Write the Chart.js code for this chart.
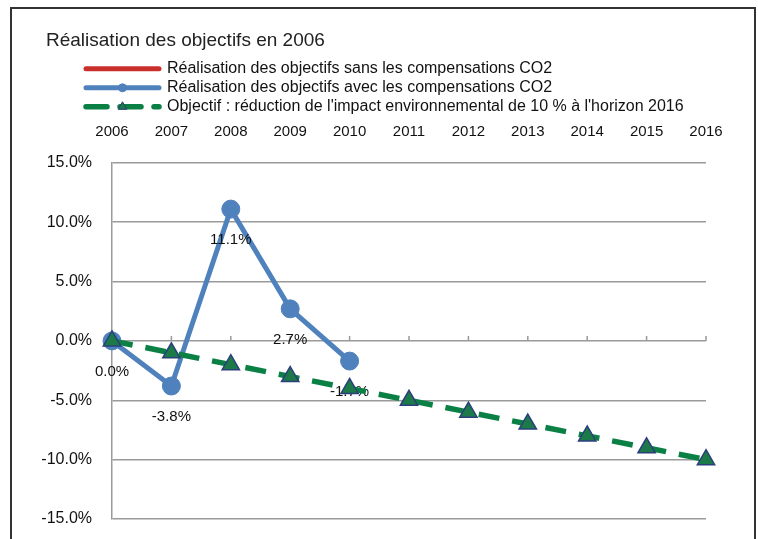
<!DOCTYPE html>
<html>
<head>
<meta charset="utf-8">
<script src="https://cdn.jsdelivr.net/npm/chart.js@4/dist/chart.umd.min.js"></script>
<style>
  body { margin: 0; background: #fff; }
  #wrap { position: relative; width: 758px; height: 539px; overflow: hidden; }
  #frame { position: absolute; left: 10px; top: 7px; width: 746px; height: 600px; border: 2px solid #333; box-sizing: border-box; pointer-events: none; }
</style>
</head>
<body>
<div id="wrap">
  <canvas id="chart" width="758" height="539"></canvas>
  <div id="frame"></div>
</div>
<script>
var title_text = "Réalisation des objectifs en 2006";
var years = ['2006', '2007', '2008', '2009', '2010', '2011', '2012', '2013', '2014', '2015', '2016'];
var label_sans = "Réalisation des objectifs sans les compensations CO2";
var label_avec = "Réalisation des objectifs avec les compensations CO2";
var label_objectif = "Objectif : réduction de l'impact environnemental de 10 % à l'horizon 2016";
// nothing of the red series is visible in the picture
var sans_compensations = [null, null, null, null, null, null, null, null, null, null, null];
var avec_compensations = [0.0, -3.8, 11.1, 2.7, -1.7, null, null, null, null, null, null];
var objectif = [0, -1, -2, -3, -4, -5, -6, -7, -8, -9, -10];
var y_min = -15;
var y_max = 15;
var y_step = 5;

var red_clr = "#c9302c";
var blue_clr = "#4f81bd";
var green_clr = "#0a8045";
var tri_fill = "#1c7a48";
var tri_edge = "#2b3f7c";
var grid_clr = "#9a9a9a";
var text_clr = "#111";
var legend_line = 73;

Chart.defaults.font.family = "'Liberation Sans', Arial, sans-serif";

// title and legend sit further right than the y axis labels
var shift_blocks = {
  id: 'shift_blocks',
  afterLayout: function(chart) {
    chart.titleBlock.left += 26;
    chart.legend.left += 63;
  }
};

// small marker in the middle of the legend lines
var legend_marks = {
  id: 'legend_marks',
  afterDraw: function(chart) {
    var ctx = chart.ctx;
    var lg = chart.legend;
    var boxes = lg.legendHitBoxes;
    var pad = lg.options.labels.padding;
    lg.legendItems.forEach(function(item, i) {
      var ds = chart.data.datasets[item.datasetIndex];
      if (!ds.pointRadius) return;
      var b = boxes[i];
      var cx = lg.left + pad + legend_line / 2;
      var cy = b.top + b.height / 2;
      ctx.save();
      ctx.fillStyle = ds.pointBackgroundColor;
      ctx.strokeStyle = ds.pointBorderColor;
      if (ds.pointStyle == 'circle') {
        Chart.helpers.drawPoint(ctx, {pointStyle: 'circle', radius: 4, borderWidth: 1}, cx, cy);
      } else {
        Chart.helpers.drawPoint(ctx, {pointStyle: 'triangle', radius: 5, borderWidth: 1}, cx, cy);
      }
      ctx.restore();
    });
  }
};

var zero_ticks = {
  id: 'zero_ticks',
  beforeDatasetsDraw: function(chart) {
    var ctx = chart.ctx;
    var xs = chart.scales.x;
    var y0 = chart.scales.y.getPixelForValue(0);
    ctx.save();
    ctx.strokeStyle = grid_clr;
    ctx.lineWidth = 1.5;
    ctx.beginPath();
    xs.ticks.forEach(function(t, i) {
      var px = xs.getPixelForTick(i);
      ctx.moveTo(px, y0);
      ctx.lineTo(px, y0 - 5);
    });
    ctx.stroke();
    ctx.restore();
  }
};

var value_labels = {
  id: 'value_labels',
  afterDatasetDraw: function(chart, args) {
    if (args.index !== 1) return;
    var ctx = chart.ctx;
    var data = chart.data.datasets[1].data;
    ctx.save();
    ctx.fillStyle = text_clr;
    ctx.font = "15px 'Liberation Sans', Arial, sans-serif";
    ctx.textAlign = 'center';
    ctx.textBaseline = 'middle';
    args.meta.data.forEach(function(pt, i) {
      if (data[i] === null) return;
      ctx.fillText(data[i].toFixed(1) + '%', pt.x, pt.y + 31);
    });
    ctx.restore();
  }
};

function legend_items(chart) {
  var items = Chart.defaults.plugins.legend.labels.generateLabels(chart);
  items.forEach(function(it) {
    var ds = chart.data.datasets[it.datasetIndex];
    it.strokeStyle = ds.borderColor;
    it.fillStyle = ds.borderColor;
    it.lineWidth = ds.borderWidth;
    it.lineDash = ds.borderDash || [];
    it.lineCap = 'round';
    it.pointStyle = 'line';
  });
  return items;
}

var ctx = document.getElementById('chart').getContext('2d');
new Chart(ctx, {
  type: 'line',
  data: {
    labels: years,
    datasets: [
      {
        label: label_sans,
        data: sans_compensations,
        borderColor: red_clr,
        backgroundColor: red_clr,
        borderWidth: 5,
        pointRadius: 0,
        order: 2
      },
      {
        label: label_avec,
        data: avec_compensations,
        borderColor: blue_clr,
        backgroundColor: blue_clr,
        borderWidth: 5,
        pointStyle: 'circle',
        pointRadius: 9,
        pointBorderWidth: 1,
        pointBackgroundColor: blue_clr,
        pointBorderColor: blue_clr,
        order: 1
      },
      {
        label: label_objectif,
        data: objectif,
        borderColor: green_clr,
        backgroundColor: green_clr,
        borderWidth: 5.5,
        borderDash: [21, 13],
        pointStyle: 'triangle',
        pointRadius: 10,
        pointBorderWidth: 1.5,
        pointBackgroundColor: tri_fill,
        pointBorderColor: tri_edge,
        order: 0
      }
    ]
  },
  options: {
    responsive: false,
    animation: false,
    layout: {
      padding: {left: 20, right: 52, top: 0, bottom: 20}
    },
    plugins: {
      title: {
        display: true,
        text: title_text,
        align: 'start',
        color: "#222",
        font: {size: 19, weight: 'normal'},
        padding: {top: 29, bottom: 6}
      },
      legend: {
        position: 'top',
        align: 'start',
        labels: {
          usePointStyle: true,
          pointStyleWidth: legend_line,
          padding: 3,
          color: text_clr,
          font: {size: 16},
          generateLabels: legend_items,
          sort: function(a, b) { return a.datasetIndex - b.datasetIndex; }
        }
      },
      tooltip: {enabled: false}
    },
    scales: {
      x: {
        position: 'top',
        offset: false,
        grid: {display: false, drawTicks: false},
        border: {display: false},
        ticks: {
          color: text_clr,
          font: {size: 15},
          padding: 22,
          maxRotation: 0,
          autoSkip: false
        },
        afterFit: function(scale) {
          scale.height = 38;
        }
      },
      y: {
        min: y_min,
        max: y_max,
        grid: {color: grid_clr, lineWidth: 1.5, drawTicks: true, tickLength: 20, tickColor: 'rgba(0,0,0,0)'},
        border: {display: true, color: grid_clr, width: 1.5},
        ticks: {
          stepSize: y_step,
          padding: 0,
          color: text_clr,
          font: {size: 16},
          callback: function(value) {
            return value.toFixed(1) + '%';
          }
        },
        afterFit: function(scale) {
          scale.width = 92;
        }
      }
    }
  },
  plugins: [shift_blocks, legend_marks, zero_ticks, value_labels]
});
</script>
</body>
</html>
